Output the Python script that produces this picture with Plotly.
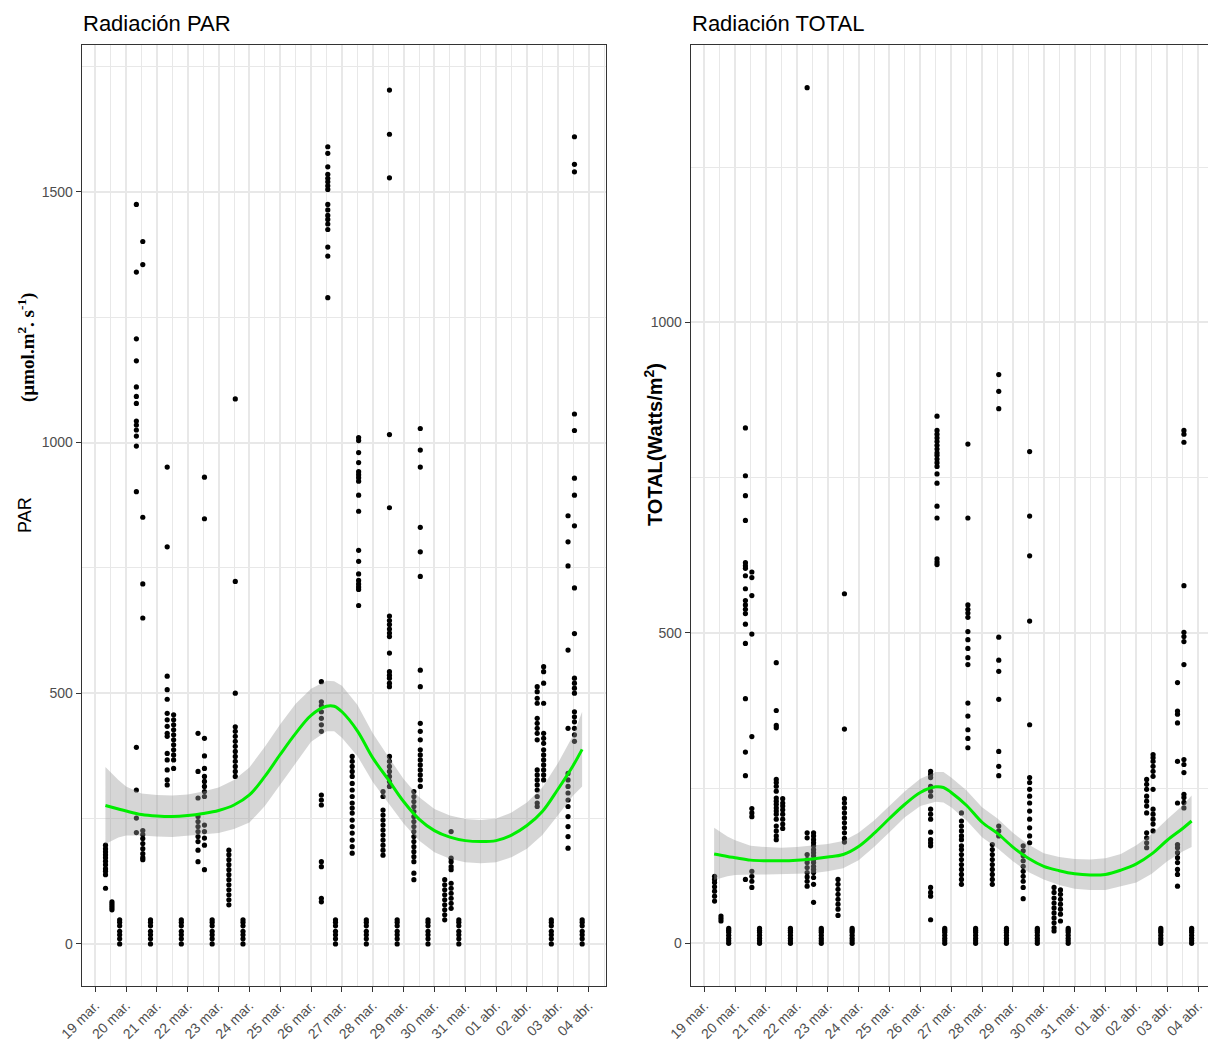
import datetime as dt
import plotly.graph_objects as go

W, H = 1208, 1046
BASE = dt.datetime(2021, 3, 19)

# ---------------------------------------------------------------- data ----
# Reading times shared by both sensors (08:00, 13:00 and 19:00 each day)
obs_days = ["2021-03-19", "2021-03-20", "2021-03-21", "2021-03-22", "2021-03-23",
            "2021-03-26", "2021-03-27", "2021-03-28", "2021-03-29", "2021-03-30",
            "2021-04-02", "2021-04-03"]
obs_hours = ["08:00", "13:00", "19:00"]

# Evening readings (sun already down)
par_night = [0, 10, 18, 25, 36, 43, 48]
total_night = [0, 4, 8, 13, 18, 21, 24]

# PAR (µmol m-2 s-1), [morning, noon] per day
par_morning = [
    [197, 190, 184, 178, 172, 165, 158, 150, 145, 138, 111],
    [1475, 1340, 1207, 1163, 1111, 1092, 1078, 1043, 1035, 1025, 1013, 993, 902, 392, 307, 251, 222],
    [951, 792, 534, 507, 488, 460, 447, 434, 420, 414, 380, 367, 347, 327, 317],
    [420, 344, 291, 254, 244, 234, 224, 214, 204, 187, 164],
    [187, 178, 168, 158, 148, 138, 128, 118, 108, 98, 88, 78],
    [523, 483, 475, 463, 450, 437, 424, 297, 287, 277, 164, 154, 91, 84],
    [374, 364, 354, 344, 334, 320, 307, 294, 281, 271, 261, 247, 234, 221, 207, 194, 181],
    [304, 294, 267, 257, 247, 237, 227, 217, 207, 197, 187, 177],
    [304, 294, 284, 274, 264, 254, 244, 234, 224, 214, 204, 194, 184, 174, 164, 141, 128],
    [128, 118, 108, 98, 88, 78, 68, 58, 48],
    [513, 503, 490, 480, 450, 440, 430, 420, 407, 347, 337, 327, 317, 307, 294, 281, 274],
    [854, 802, 754, 586, 430, 340, 327, 314, 301, 287, 274, 254, 234, 214, 191],
]
par_noon = [
    [84, 80, 76, 72, 68],
    [1401, 1355, 851, 718, 650, 226, 218, 210, 200, 190, 180, 172, 168],
    [457, 447, 437, 427, 417, 407, 397, 387, 377, 367, 350],
    [931, 848, 410, 375, 350, 334, 324, 314, 304, 294, 237, 224, 211, 197, 148],
    [1087, 723, 500, 433, 424, 414, 404, 394, 384, 374, 364, 354, 344, 334],
    [1590, 1577, 1550, 1535, 1527, 1520, 1512, 1505, 1475, 1464, 1453, 1445, 1436, 1425, 1390, 1372, 1289],
    [1010, 1004, 980, 960, 942, 936, 930, 923, 895, 863, 785, 763, 738, 725, 718, 712, 707, 675],
    [1703, 1615, 1528, 1016, 870, 654, 645, 637, 628, 620, 613, 580, 543, 536, 530, 520, 513,
     374, 364, 354, 344, 334, 324, 314],
    [1028, 985, 951, 831, 782, 733, 546, 513, 440, 424, 407, 387, 377, 367, 357, 347, 337, 327, 314],
    [224, 171, 164, 154, 148, 121, 111, 101, 91, 81, 71],
    [553, 543, 520, 480, 420, 410, 400, 387, 377, 367, 357, 347, 337, 327],
    [1610, 1555, 1540, 1057, 1024, 929, 895, 834, 710, 619, 530, 520, 510, 500, 463, 453, 443, 430, 417, 404],
]

# TOTAL radiation (W/m2), [morning, noon] per day
total_morning = [
    [108, 103, 98, 91, 84, 76, 68],
    [830, 753, 721, 681, 613, 608, 604, 592, 571, 552, 545, 538, 531, 514, 483, 394, 308, 270, 103],
    [452, 375, 351, 347, 264, 259, 253, 245, 234, 229, 224, 218, 213, 208, 200, 189, 181, 173, 167],
    [1378, 178, 170, 143, 135, 130, 122, 114, 107, 100, 92],
    [103, 95, 87, 79, 71, 63, 55, 45],
    [277, 272, 267, 253, 245, 237, 216, 208, 200, 179, 167, 162, 157, 90, 82, 76, 38],
    [210, 197, 189, 181, 173, 167, 157, 151, 143, 135, 127, 119, 111, 103, 95],
    [159, 151, 143, 135, 127, 119, 111, 103, 95],
    [157, 149, 141, 133, 124, 116, 108, 100, 90, 72],
    [90, 82, 73, 65, 57, 49, 41, 33, 25, 20],
    [264, 256, 248, 237, 229, 221, 210, 178, 170, 162, 154],
    [420, 374, 369, 355, 293, 226, 159, 154, 146, 138, 130, 119, 111, 92],
]
total_noon = [
    [44, 40, 36],
    [598, 589, 560, 498, 333, 217, 210, 204, 116, 108, 100, 90],
    [233, 226, 221, 215, 208, 200, 192, 185],
    [178, 173, 167, 162, 157, 151, 146, 141, 135, 130, 124, 119, 114, 106, 95, 66],
    [563, 345, 233, 226, 218, 210, 202, 194, 186, 178, 169, 163],
    [849, 826, 820, 814, 808, 802, 796, 790, 786, 780, 774, 768, 756, 741, 704, 685, 619, 614, 610],
    [804, 685, 545, 538, 532, 525, 502, 489, 475, 460, 449, 387, 366, 344, 330, 315],
    [916, 889, 861, 493, 456, 438, 393, 309, 285, 270, 189, 181, 173],
    [792, 688, 624, 519, 352, 267, 259, 248, 237, 226, 213, 200, 186, 173, 162],
    [86, 79, 71, 63, 55, 47, 36],
    [304, 299, 293, 285, 277, 269, 248, 216, 208, 200, 192, 181],
    [826, 820, 807, 576, 501, 494, 486, 449, 296, 288, 275, 240, 235, 227, 218],
]

# Loess trend with its confidence band (days after 19 Mar 00:00)
par_fit_days = [0.33, 0.75, 1.0, 1.5, 2.0, 2.5, 3.0, 3.5, 4.0, 4.5, 5.0, 5.5, 6.0, 6.5, 7.0, 7.5,
                7.75, 8.0, 8.5, 9.0, 9.5, 10.0, 10.5, 11.0, 11.5, 12.0, 12.5, 13.0, 13.5, 14.0,
                14.5, 15.0, 15.5, 15.79]
par_fit = [276, 269, 265, 258, 255, 254, 256, 260, 266, 277, 297, 334, 378, 420, 456, 474,
           474, 463, 425, 371, 328, 284, 249, 226, 213, 206, 204, 206, 217, 236, 264, 308, 356, 388]
par_lo = [199, 212, 216, 216, 214, 213, 215, 218, 221, 229, 242, 275, 318, 361, 403, 424,
          424, 411, 375, 323, 282, 240, 206, 183, 170, 163, 161, 163, 173, 190, 217, 256, 296, 314]
par_hi = [353, 327, 314, 300, 297, 296, 298, 304, 312, 327, 352, 393, 438, 479, 509, 525,
          524, 515, 477, 420, 374, 329, 293, 269, 256, 249, 247, 250, 262, 282, 312, 360, 416, 463]

total_fit_days = [0.32, 0.75, 1.0, 1.5, 2.0, 2.5, 3.0, 3.5, 4.0, 4.5, 5.0, 5.5, 6.0, 6.5, 7.0, 7.5,
                  7.75, 8.0, 8.5, 9.0, 9.5, 10.0, 10.5, 11.0, 11.5, 12.0, 12.5, 13.0, 13.5, 14.0,
                  14.5, 15.0, 15.5, 15.79]
total_fit = [144, 140, 138, 134, 133, 133, 134, 136, 139, 143, 156, 177, 201, 224, 243, 252,
             251, 243, 222, 195, 177, 155, 137, 124, 117, 112, 110, 111, 118, 128, 144, 166, 185, 197]
total_lo = [102, 108, 110, 111, 111, 111, 112, 113, 116, 121, 134, 155, 179, 203, 221, 228,
            227, 219, 198, 171, 153, 132, 115, 103, 94, 88, 86, 86, 92, 98, 112, 132, 148, 155]
total_hi = [186, 172, 166, 157, 155, 154, 155, 157, 160, 165, 178, 198, 222, 245, 265, 276,
            276, 267, 246, 219, 201, 178, 159, 145, 139, 136, 135, 137, 144, 158, 176, 200, 222, 238]

tick_labels = ["19 mar.", "20 mar.", "21 mar.", "22 mar.", "23 mar.", "24 mar.", "25 mar.",
               "26 mar.", "27 mar.", "28 mar.", "29 mar.", "30 mar.", "31 mar.", "01 abr.",
               "02 abr.", "03 abr.", "04 abr."]


# ------------------------------------------------------------- helpers ----
def stamp(day, hour):
    return dt.datetime.fromisoformat(f"{day} {hour}")


def flatten(morning, noon, night):
    xs, ys = [], []
    for day, am, pm in zip(obs_days, morning, noon):
        for hour, vals in zip(obs_hours, (am, pm, night)):
            xs += [stamp(day, hour)] * len(vals)
            ys += vals
    return xs, ys


def day_offsets(days):
    return [BASE + dt.timedelta(days=d) for d in days]


def px_x(x):
    return x / W


def px_y(y):
    return 1 - y / H


# ------------------------------------------------------------- figure ----
fig = go.Figure()

GREEN = "#00ee00"
BAND = "rgba(153,153,153,0.4)"

panels = [
    ("x", "y", flatten(par_morning, par_noon, par_night), par_fit_days, par_fit, par_lo, par_hi),
    ("x2", "y2", flatten(total_morning, total_noon, total_night), total_fit_days, total_fit,
     total_lo, total_hi),
]
for xa, ya, (px, py), fd, ff, flo, fhi in panels:
    fig.add_trace(go.Scatter(x=px, y=py, mode="markers", xaxis=xa, yaxis=ya,
                             marker=dict(size=5.2, color="black"), showlegend=False,
                             hoverinfo="x+y"))
    t = day_offsets(fd)
    fig.add_trace(go.Scatter(x=t + t[::-1], y=fhi + flo[::-1], xaxis=xa, yaxis=ya,
                             fill="toself", fillcolor=BAND, line=dict(width=0),
                             mode="lines", showlegend=False, hoverinfo="skip"))
    fig.add_trace(go.Scatter(x=t, y=ff, xaxis=xa, yaxis=ya, mode="lines",
                             line=dict(color=GREEN, width=3, shape="spline"),
                             showlegend=False))

# x range: data span plus 5 % on each side
all_times = flatten(par_morning, par_noon, par_night)[0]
t0, t1 = min(all_times), max(all_times)
pad = (t1 - t0) * 0.05
x_lo, x_hi = t0 - pad, t1 + pad
# the right panel runs off the page edge
x_hi_right = x_lo + (x_hi - x_lo) * 0.9857

tick_vals = [BASE + dt.timedelta(days=i) for i in range(len(tick_labels))]
noon_vals = [BASE + dt.timedelta(days=i, hours=12) for i in range(-1, len(tick_labels))]

GRID = "#e8e8e8"
FRAME = "#333333"
SANS = "Liberation Sans, Arial, sans-serif"
TICKFONT = dict(family=SANS, size=14, color="#4d4d4d")

xcommon = dict(type="date", tickmode="array", tickvals=tick_vals, ticktext=tick_labels,
               tickangle=-45, tickfont=TICKFONT, ticks="outside", ticklen=5, tickwidth=1,
               tickcolor=FRAME, showline=True, mirror=True, linecolor=FRAME, linewidth=1,
               showgrid=True, gridcolor=GRID, gridwidth=1.5, zeroline=False, automargin=False,
               minor=dict(tickmode="array", tickvals=noon_vals, showgrid=True,
                          gridcolor=GRID, gridwidth=1.2))
ycommon = dict(tickfont=TICKFONT, ticks="outside", ticklen=5, tickwidth=1, tickcolor=FRAME,
               showline=True, mirror=True, linecolor=FRAME, linewidth=1, showgrid=True,
               gridcolor=GRID, gridwidth=1.5, zeroline=False, automargin=False,
               domain=[px_y(986), px_y(45)])

fig.update_layout(
    template="none",
    width=W, height=H,
    margin=dict(l=0, r=0, t=0, b=0, autoexpand=False),
    paper_bgcolor="white", plot_bgcolor="white",
    font=dict(family=SANS, color="black"),
    showlegend=False,
    xaxis=dict(xcommon, domain=[px_x(81.7), px_x(606)], range=[x_lo, x_hi], anchor="y"),
    xaxis2=dict(xcommon, domain=[px_x(690.7), 1.0], range=[x_lo, x_hi_right], anchor="y2"),
    yaxis=dict(ycommon, range=[-84, 1793], anchor="x", tickvals=[0, 500, 1000, 1500],
               minor=dict(tickmode="array", tickvals=[250, 750, 1250, 1750], showgrid=True,
                          gridcolor=GRID, gridwidth=1.2)),
    yaxis2=dict(ycommon, range=[-68.7, 1446.7], anchor="x2", tickvals=[0, 500, 1000],
                minor=dict(tickmode="array", tickvals=[250, 750, 1250], showgrid=True,
                           gridcolor=GRID, gridwidth=1.2)),
)

notes = [
    dict(text="Radiación PAR", x=px_x(81), y=px_y(38), xanchor="left", yanchor="bottom",
         font=dict(family=SANS, size=22, color="black")),
    dict(text="Radiación TOTAL", x=px_x(690), y=px_y(38), xanchor="left", yanchor="bottom",
         font=dict(family=SANS, size=22, color="black")),
    dict(text="PAR", x=px_x(25), y=px_y(515), textangle=-90,
         font=dict(family=SANS, size=18, color="black")),
    dict(text="<b>(µmol.m<sup>2</sup>. s<sup>-1</sup>)</b>", x=px_x(27), y=px_y(348),
         textangle=-90, font=dict(family="Liberation Serif, Times New Roman, serif", size=19,
                                  color="black")),
    dict(text="<b>TOTAL(Watts/m<sup>2</sup>)</b>", x=px_x(653), y=px_y(445), textangle=-90,
         font=dict(family=SANS, size=20, color="black")),
]
for n in notes:
    n.update(xref="paper", yref="paper", showarrow=False)
    n.setdefault("xanchor", "center")
    n.setdefault("yanchor", "middle")
    fig.add_annotation(**n)

fig.write_html("out.html")
